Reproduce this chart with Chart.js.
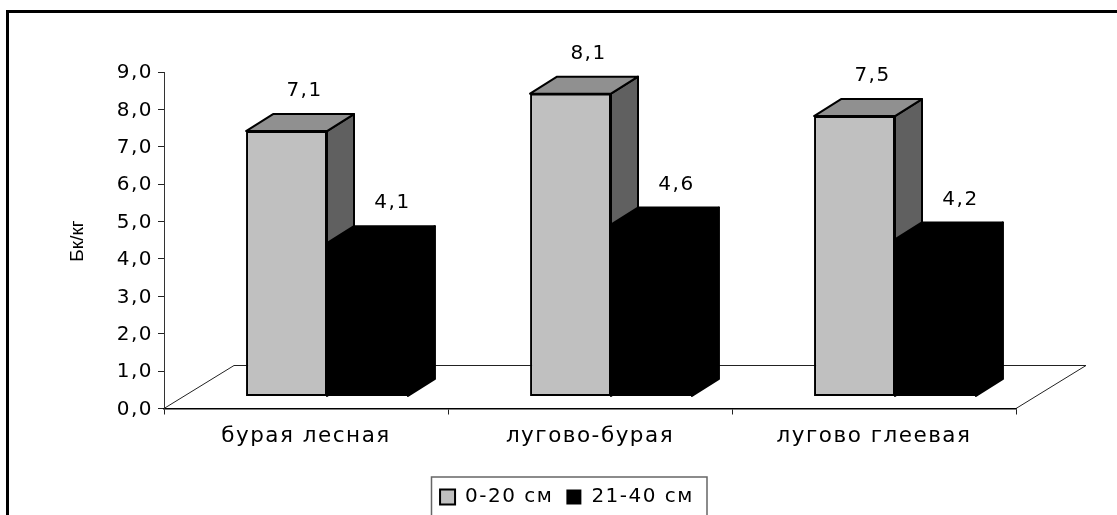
<!DOCTYPE html>
<html>
<head>
<meta charset="utf-8">
<script src="https://cdn.jsdelivr.net/npm/chart.js@4"></script>
<style>
  body { margin: 0; background: #fff; }
  canvas { display: block; }
</style>
</head>
<body>
<canvas id="chart" width="1117" height="515"></canvas>
<script>
const categories = ['бурая лесная', 'лугово-бурая', 'лугово глеевая'];
const seriesNames = ['0-20 см', '21-40 см'];
const shallow = [7.1, 8.1, 7.5];
const deep = [4.1, 4.6, 4.2];
const yTicks = [0, 1, 2, 3, 4, 5, 6, 7, 8, 9];
const yTitle = 'Бк/кг';

const FONT = 'DejaVu Sans';
const fmt = v => v.toFixed(1).replace('.', ',');

// fake 3D look: floor shift and bar depth, in pixels
const FLOOR_DX = 70, FLOOR_DY = 43;
const BAR_SHIFT_X = 21, BAR_SHIFT_Y = 12;
const DEPTH_X = 27, DEPTH_Y = 17;

const faceColors = [
    { top: '#909090', side: '#606060' },
    { top: '#000000', side: '#000000' }
];
const labelShift = [18, 25];

function poly(ctx, pts, fill, stroke) {
    ctx.beginPath();
    pts.forEach((p, i) => i ? ctx.lineTo(p[0], p[1]) : ctx.moveTo(p[0], p[1]));
    ctx.closePath();
    ctx.fillStyle = fill;
    ctx.fill();
    ctx.lineWidth = 2;
    ctx.lineJoin = 'round';
    ctx.strokeStyle = stroke;
    ctx.stroke();
}

const bars3d = {
    id: 'bars3d',
    beforeUpdate(chart) {
        // the original text is stretched wide, spacing gets close to it
        chart.ctx.letterSpacing = '1.5px';
    },
    afterLayout(chart) {
        // legend sits off the centre of the page in the original
        chart.legend.left += 29;
        chart.legend.right += 29;
        chart.legend.top += 2;
        chart.legend.bottom += 2;
    },
    beforeDraw(chart) {
        const ctx = chart.ctx;
        ctx.save();
        // outer frame: left and top only, the rest is cut off
        ctx.strokeStyle = '#000';
        ctx.lineWidth = 3;
        ctx.beginPath();
        ctx.moveTo(7.5, 515);
        ctx.lineTo(7.5, 11.5);
        ctx.lineTo(1117, 11.5);
        ctx.stroke();
        // legend box
        ctx.strokeStyle = '#666';
        ctx.lineWidth = 1.5;
        ctx.beginPath();
        ctx.moveTo(431.5, 515);
        ctx.lineTo(431.5, 477);
        ctx.lineTo(707, 477);
        ctx.lineTo(707, 515);
        ctx.stroke();
        // axis title, squeezed compared with the tick labels
        ctx.letterSpacing = '0px';
        ctx.font = '19px "Liberation Sans"';
        ctx.fillStyle = '#000';
        ctx.textAlign = 'center';
        ctx.textBaseline = 'middle';
        ctx.translate(78, 241);
        ctx.rotate(-Math.PI / 2);
        ctx.fillText(yTitle, 0, 0);
        ctx.restore();
        // tick labels sit a little low in the original
        chart.scales.y.getLabelItems().forEach(item => { item.options.translation[1] += 1; });
    },
    beforeDatasetsDraw(chart) {
        const ctx = chart.ctx;
        const a = chart.chartArea;
        // floor
        ctx.save();
        ctx.strokeStyle = '#222';
        ctx.lineWidth = 1;
        ctx.beginPath();
        ctx.moveTo(a.left, a.bottom);
        ctx.lineTo(a.left + FLOOR_DX, a.bottom - FLOOR_DY);
        ctx.lineTo(a.right + FLOOR_DX, a.bottom - FLOOR_DY);
        ctx.lineTo(a.right, a.bottom);
        ctx.stroke();
        ctx.restore();

        // the library's bars are drawn inside this shift, restored after
        ctx.save();
        ctx.translate(BAR_SHIFT_X, -BAR_SHIFT_Y);
        chart.data.datasets.forEach((ds, i) => {
            chart.getDatasetMeta(i).data.forEach(bar => {
                const l = bar.x - bar.width / 2, r = bar.x + bar.width / 2;
                const t = bar.y, b = bar.base;
                const c = faceColors[i];
                poly(ctx, [[r, t], [r + DEPTH_X, t - DEPTH_Y], [r + DEPTH_X, b - DEPTH_Y], [r, b]], c.side, '#000');
                poly(ctx, [[l, t], [l + DEPTH_X, t - DEPTH_Y], [r + DEPTH_X, t - DEPTH_Y], [r, t]], c.top, '#000');
            });
        });
    },
    afterDatasetsDraw(chart) {
        const ctx = chart.ctx;
        ctx.restore();
        // value labels above the bars
        ctx.save();
        ctx.font = '20px "' + FONT + '"';
        ctx.fillStyle = '#000';
        ctx.textAlign = 'center';
        ctx.textBaseline = 'middle';
        chart.data.datasets.forEach((ds, i) => {
            chart.getDatasetMeta(i).data.forEach((bar, j) => {
                ctx.fillText(fmt(ds.data[j]), bar.x + BAR_SHIFT_X + labelShift[i], bar.y - BAR_SHIFT_Y - 40);
            });
        });
        ctx.restore();
    }
};

new Chart(document.getElementById('chart'), {
    type: 'bar',
    data: {
        labels: categories,
        datasets: [
            { label: seriesNames[0], data: shallow, backgroundColor: '#c0c0c0', borderColor: '#000', borderWidth: 2, borderSkipped: false, clip: false },
            { label: seriesNames[1], data: deep, backgroundColor: '#000', borderColor: '#000', borderWidth: 0, clip: false }
        ]
    },
    options: {
        responsive: false,
        animation: false,
        categoryPercentage: 0.57,
        barPercentage: 1,
        layout: { padding: { left: 60, right: 101, top: 72, bottom: 0 } },
        plugins: {
            tooltip: { enabled: false },
            legend: {
                position: 'bottom',
                labels: {
                    color: '#000',
                    boxWidth: 15,
                    boxHeight: 15,
                    padding: 13,
                    font: { family: FONT, size: 20 }
                }
            }
        },
        scales: {
            x: {
                afterFit: s => { s.height = 63.5; },
                border: { color: '#000', width: 1.5 },
                grid: { drawOnChartArea: false, color: '#222', tickLength: 6 },
                ticks: { color: '#000', padding: 9, maxRotation: 0, font: { family: FONT, size: 21.5 } }
            },
            y: {
                min: 0,
                max: 9,
                afterFit: s => { s.width = 104; },
                afterBuildTicks: s => { s.ticks = yTicks.map(v => ({ value: v })); },
                border: { color: '#333', width: 1 },
                grid: { drawOnChartArea: false, color: '#222', tickLength: 6 },
                ticks: { color: '#000', padding: 5, callback: v => fmt(v), font: { family: FONT, size: 20 } }
            }
        }
    },
    plugins: [bars3d]
});
</script>
</body>
</html>
